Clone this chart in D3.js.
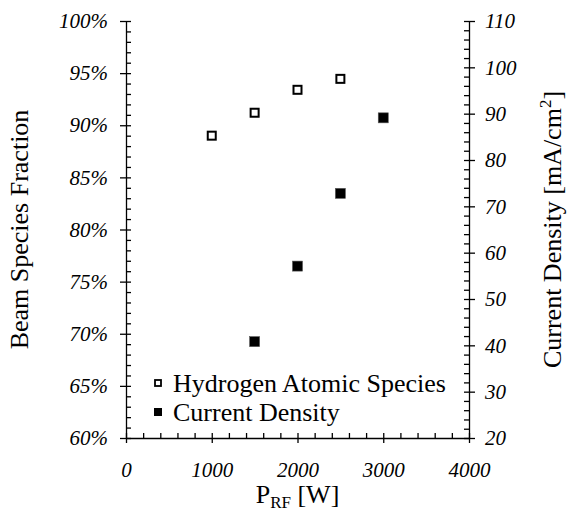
<!DOCTYPE html>
<html>
<head>
<meta charset="utf-8">
<script src="https://cdn.jsdelivr.net/npm/d3@7"></script>
<style>
  body { margin: 0; background: #fff; }
  text { font-family: "Liberation Serif", "Times New Roman", serif; fill: #000; }
  .tick text { font-style: italic; font-size: 21px; }
  .domain, .tick line { stroke: #000; stroke-width: 1.3; }
</style>
</head>
<body>
<div id="chart"></div>
<script>
// --------------------------------------
//  Data
// --------------------------------------
const powerAtomic = [1000, 1500, 2000, 2500];
const fractionAtomic = [0.890, 0.912, 0.934, 0.9445];
const powerCurrent = [1500, 2000, 2500, 3000];
const currentDensity = [40.8, 57.1, 72.8, 89.1];

const xTicks = [0, 1000, 2000, 3000, 4000];
const yLeftTicks = [0.60, 0.65, 0.70, 0.75, 0.80, 0.85, 0.90, 0.95, 1.00];
const yRightTicks = [20, 30, 40, 50, 60, 70, 80, 90, 100, 110];

const legendLabels = ["Hydrogen Atomic Species", "Current Density"];

// --------------------------------------
//  Canvas
// --------------------------------------
const width = 568, height = 515;
const margin = { top: 21, right: 99, bottom: 77, left: 126 };
const innerwidth = width - margin.left - margin.right;
const innerheight = height - margin.top - margin.bottom;

const svg = d3.select("#chart")
  .append("svg")
  .attr("width", width)
  .attr("height", height);

const inner = svg.append("g")
  .attr("transform", `translate(${margin.left}, ${margin.top})`);

const x = d3.scaleLinear().domain([0, 4000]).range([0, innerwidth]);
const yL = d3.scaleLinear().domain([0.60, 1.00]).range([innerheight, 0]);
const yR = d3.scaleLinear().domain([20, 110]).range([innerheight, 0]);

// --------------------------------------
//  Axes (minor ticks inward, major ticks cross)
// --------------------------------------
const xMinor = d3.range(0, 4001, 200);
const yLMinor = d3.range(60, 101, 1).map(d => d / 100);
const yRMinor = d3.range(20, 111, 2);

// bottom
inner.append("g")
  .attr("transform", `translate(0, ${innerheight})`)
  .call(d3.axisBottom(x).tickValues(xMinor).tickSize(-5).tickSizeOuter(0).tickFormat(""));
inner.append("g")
  .attr("transform", `translate(0, ${innerheight})`)
  .call(d3.axisBottom(x).tickValues(xTicks).tickSize(5).tickSizeOuter(0).tickPadding(19).tickFormat(d3.format("d")))
  .call(g => g.select(".domain").remove());

// left
inner.append("g")
  .call(d3.axisLeft(yL).tickValues(yLMinor).tickSize(-5).tickSizeOuter(0).tickFormat(""));
inner.append("g")
  .call(d3.axisLeft(yL).tickValues(yLeftTicks).tickSize(6).tickSizeOuter(0).tickPadding(12).tickFormat(d3.format(".0%")))
  .call(g => g.select(".domain").remove());

// right
inner.append("g")
  .attr("transform", `translate(${innerwidth}, 0)`)
  .call(d3.axisRight(yR).tickValues(yRMinor).tickSize(-5).tickSizeOuter(0).tickFormat(""));
inner.append("g")
  .attr("transform", `translate(${innerwidth}, 0)`)
  .call(d3.axisRight(yR).tickValues(yRightTicks).tickSize(6).tickSizeOuter(0).tickPadding(10))
  .call(g => g.select(".domain").remove());

// --------------------------------------
//  Marks
// --------------------------------------
const s = 10;

inner.selectAll(".atomic")
  .data(powerAtomic)
  .join("rect")
    .attr("class", "atomic")
    .attr("x", (d, i) => x(d) - s / 2 + 1)
    .attr("y", (d, i) => yL(fractionAtomic[i]) - s / 2 + 1)
    .attr("width", s - 2)
    .attr("height", s - 2)
    .attr("fill", "#fff")
    .attr("stroke", "#000")
    .attr("stroke-width", 2);

inner.selectAll(".current")
  .data(powerCurrent)
  .join("rect")
    .attr("class", "current")
    .attr("x", (d, i) => x(d) - s / 2)
    .attr("y", (d, i) => yR(currentDensity[i]) - s / 2)
    .attr("width", s)
    .attr("height", s)
    .attr("fill", "#000")
    .attr("stroke", "#555")
    .attr("stroke-width", 0.6);

// --------------------------------------
//  Legend
// --------------------------------------
const legend = svg.append("g").attr("transform", "translate(158, 383)");
legendLabels.forEach((label, i) => {
  const row = legend.append("g").attr("transform", `translate(0, ${i * 29})`);
  if (i === 0) {
    row.append("rect").attr("x", -3).attr("y", -3).attr("width", 6).attr("height", 6)
      .attr("fill", "#fff").attr("stroke", "#000").attr("stroke-width", 1.8);
  } else {
    row.append("rect").attr("x", -4).attr("y", -4).attr("width", 8).attr("height", 8)
      .attr("fill", "#000");
  }
  row.append("text")
    .attr("x", 15)
    .attr("y", 9)
    .style("font-size", "26px")
    .text(label);
});

// --------------------------------------
//  Axis titles
// --------------------------------------
svg.append("text")
  .attr("transform", `translate(28, ${margin.top + innerheight / 2}) rotate(-90)`)
  .attr("text-anchor", "middle")
  .style("font-size", "26px")
  .text("Beam Species Fraction");

const rt = svg.append("text")
  .attr("transform", `translate(561, ${margin.top + innerheight / 2}) rotate(-90)`)
  .attr("text-anchor", "middle")
  .style("font-size", "26px");
rt.append("tspan").text("Current Density [mA/cm");
rt.append("tspan").attr("dy", -10).style("font-size", "17px").text("2");
rt.append("tspan").attr("dy", 10).text("]");

const bt = svg.append("text")
  .attr("x", margin.left + innerwidth / 2)
  .attr("y", 503)
  .attr("text-anchor", "middle")
  .style("font-size", "26px");
bt.append("tspan").text("P");
bt.append("tspan").attr("dy", 5).style("font-size", "17px").text("RF");
bt.append("tspan").attr("dy", -5).text(" [W]");
</script>
</body>
</html>
